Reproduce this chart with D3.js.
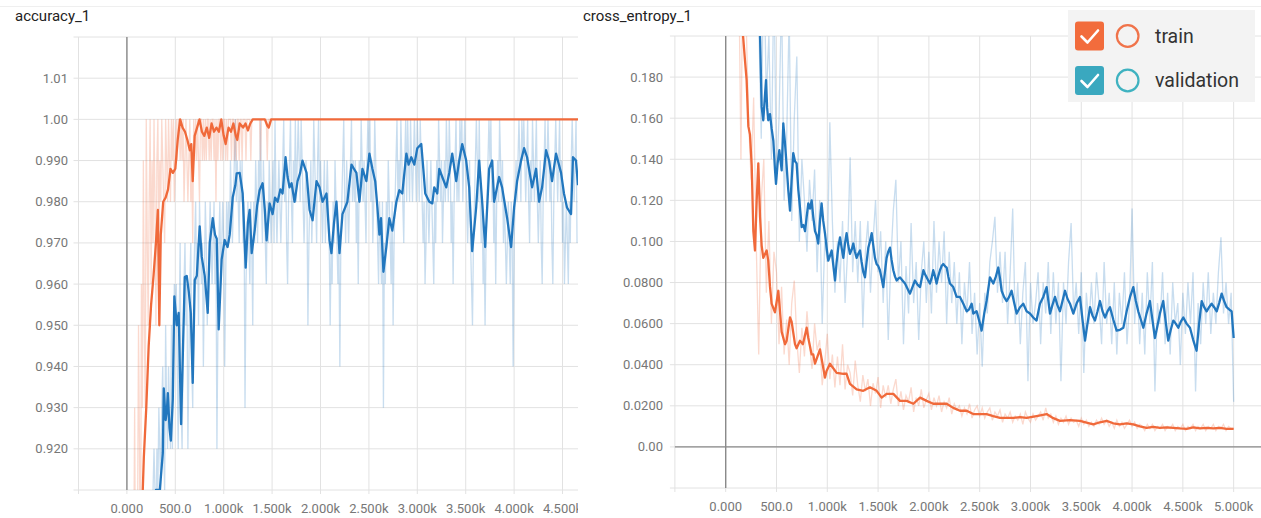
<!DOCTYPE html>
<html>
<head>
  <meta charset="utf-8">
  <title>accuracy_1 / cross_entropy_1</title>
  <script src="https://cdn.jsdelivr.net/npm/d3@7/dist/d3.min.js"></script>
  <style>
    body { margin: 0; background: #fff; }
    text { font-family: Roboto, "Liberation Sans", sans-serif; }
  </style>
</head>
<body>
<svg id="chart" width="1261" height="518"></svg>

<script>
// ---- shared x axis (training steps) ----
var xTicks      = [-500, 0, 500, 1000, 1500, 2000, 2500, 3000, 3500, 4000, 4500, 5000];
var xTickLabels = ['', '0.000', '500.0', '1.000k', '1.500k', '2.000k', '2.500k', '3.000k', '3.500k', '4.000k', '4.500k', '5.000k'];

// ---- accuracy_1 ----
var accGrid       = [0.91, 0.92, 0.93, 0.94, 0.95, 0.96, 0.97, 0.98, 0.99, 1.00, 1.01, 1.02];
var accTickLabels = ['', '0.920', '0.930', '0.940', '0.950', '0.960', '0.970', '0.980', '0.990', '1.00', '1.01', ''];

// smoothed curves, [step, value]
var trainAccSmooth = [
  [150,0.900],[175,0.918],[200,0.930],[225,0.945],[250,0.955],[275,0.962],[300,0.970],[320,0.978],[335,0.950],[350,0.972],
  [375,0.980],[400,0.981],[425,0.983],[450,0.988],[475,0.987],[500,0.988],[525,0.995],[550,1.000],[575,0.998],[600,0.997],
  [625,0.995],[650,0.9925],[665,0.994],[680,0.985],[700,0.996],[725,0.998],[750,1.000],[775,0.997],[800,0.996],[825,0.998],
  [850,0.9955],[875,0.999],[900,0.997],[925,0.998],[950,0.997],[975,1.000],[1000,0.996],[1020,0.994],[1050,0.998],[1075,0.997],
  [1100,0.999],[1125,0.996],[1140,0.995],[1165,0.999],[1200,0.998],[1225,0.999],[1250,0.9973],[1275,0.999],[1300,1.000],[1425,1.000],
  [1450,0.9985],[1465,0.998],[1490,1.000],[4660,1.000]
];
var valAccSmooth = [
  [280,0.905],[300,0.910],[340,0.910],[371,0.919],[381,0.9347],[400,0.927],[412,0.929],[423,0.9335],[440,0.925],[454,0.922],
  [474,0.932],[490,0.957],[515,0.950],[535,0.953],[560,0.926],[580,0.945],[598,0.9617],[618,0.962],[640,0.958],[660,0.953],
  [680,0.936],[701,0.961],[722,0.962],[752,0.974],[773,0.9666],[804,0.962],[835,0.953],[856,0.970],[887,0.976],[910,0.972],
  [928,0.971],[948,0.949],[979,0.966],[1010,0.9707],[1040,0.969],[1062,0.972],[1093,0.981],[1120,0.984],[1134,0.9869],[1165,0.987],
  [1196,0.982],[1227,0.964],[1250,0.975],[1268,0.978],[1289,0.9675],[1320,0.973],[1345,0.979],[1371,0.9828],[1402,0.9845],[1425,0.978],
  [1443,0.9706],[1474,0.9796],[1505,0.977],[1530,0.981],[1557,0.980],[1585,0.983],[1608,0.982],[1639,0.9908],[1660,0.986],[1680,0.9835],
  [1701,0.9845],[1732,0.980],[1763,0.985],[1790,0.987],[1814,0.990],[1856,0.987],[1887,0.978],[1918,0.9755],[1959,0.985],[1990,0.9835],
  [2021,0.980],[2062,0.982],[2093,0.9706],[2113,0.9675],[2140,0.975],[2165,0.980],[2196,0.9675],[2227,0.977],[2278,0.980],[2320,0.989],
  [2345,0.988],[2371,0.987],[2402,0.980],[2433,0.988],[2474,0.985],[2505,0.9917],[2536,0.988],[2565,0.985],[2588,0.9786],[2608,0.972],
  [2625,0.976],[2650,0.963],[2680,0.969],[2711,0.976],[2742,0.973],[2784,0.980],[2814,0.9828],[2845,0.982],[2887,0.9917],[2910,0.989],
  [2938,0.9908],[2969,0.989],[3000,0.993],[3041,0.994],[3062,0.988],[3082,0.982],[3124,0.980],[3155,0.9796],[3175,0.9835],[3206,0.982],
  [3227,0.988],[3258,0.986],[3299,0.9835],[3330,0.987],[3361,0.9917],[3402,0.985],[3433,0.990],[3464,0.994],[3505,0.990],[3536,0.9835],
  [3567,0.968],[3608,0.9786],[3639,0.990],[3670,0.980],[3701,0.969],[3742,0.988],[3773,0.990],[3794,0.980],[3845,0.986],[3876,0.9835],
  [3928,0.976],[3969,0.969],[4000,0.9786],[4031,0.985],[4072,0.990],[4103,0.993],[4134,0.9908],[4186,0.9835],[4227,0.988],[4258,0.980],
  [4289,0.9835],[4330,0.9925],[4361,0.990],[4392,0.985],[4433,0.9917],[4485,0.987],[4515,0.982],[4546,0.9786],[4588,0.977],[4608,0.9908],
  [4639,0.990],[4660,0.984]
];

// raw accuracy in hundredths, one value every 10 steps
var trainAccRawStart = 70;
var trainAccRaw = [
  89, 93, 88, 86, 90, 95, 92, 88, 96, 93, 99, 95, 93, 100, 97, 95, 98, 100, 96, 99, 97, 100, 98, 95, 99,
  100, 97, 99, 98, 100, 99, 98, 97, 100, 99, 98, 100, 99, 98, 100, 99, 100, 98, 99, 100, 99, 100, 100, 99, 100,
  99, 100, 98, 99, 100, 99, 98, 99, 100, 98, 99, 97, 100, 99, 100, 99, 100, 99, 98, 100, 100, 99, 100, 99, 100,
  99, 100, 100, 99, 100, 99, 100, 100, 99, 100, 98, 100, 99, 100, 100, 99, 100, 99, 100, 100, 99, 100, 99, 100, 100,
  100, 99, 100, 100, 99, 100, 99, 100, 100, 99, 100, 100, 99, 100, 100, 100, 99, 100, 100, 100, 100, 99, 100, 100, 100,
  100, 100, 100, 100, 100, 100, 99, 100, 100, 100, 100, 100, 100, 99, 100, 100, 100, 100, 100
];
var valAccRawStart = 250;
var valAccRaw = [
  91, 90, 91, 92, 91, 90, 92, 91, 93, 92, 91, 93, 94, 92, 91, 95, 93, 92, 94, 93, 92, 95, 92, 94, 96,
  95, 96, 94, 92, 95, 97, 93, 92, 94, 96, 97, 95, 96, 92, 94, 96, 97, 94, 93, 96, 97, 98, 96, 97, 95,
  98, 97, 96, 97, 94, 96, 98, 97, 95, 96, 97, 98, 97, 96, 97, 98, 96, 97, 92, 95, 97, 98, 96, 97, 98,
  97, 94, 96, 98, 97, 98, 97, 99, 98, 97, 98, 99, 100, 98, 99, 98, 97, 99, 98, 99, 97, 98, 93, 96, 97,
  98, 97, 96, 98, 97, 95, 98, 97, 99, 98, 97, 99, 98, 100, 98, 97, 99, 98, 97, 96, 98, 97, 99, 98, 97,
  98, 99, 97, 100, 98, 97, 98, 99, 98, 97, 98, 99, 100, 98, 99, 97, 96, 98, 99, 100, 98, 97, 99, 98, 100,
  98, 99, 100, 99, 98, 100, 99, 98, 97, 98, 99, 98, 95, 97, 98, 99, 97, 98, 100, 99, 98, 97, 99, 100, 98,
  99, 98, 97, 98, 99, 97, 98, 99, 98, 97, 95, 97, 96, 98, 97, 99, 98, 97, 96, 97, 94, 97, 98, 99, 100,
  98, 97, 99, 98, 97, 98, 99, 100, 98, 99, 98, 99, 97, 98, 96, 99, 98, 100, 99, 98, 99, 98, 97, 99, 100,
  99, 100, 98, 99, 97, 98, 100, 99, 98, 97, 96, 98, 97, 96, 98, 93, 97, 96, 98, 97, 99, 98, 97, 96, 98,
  95, 97, 98, 99, 100, 98, 99, 98, 100, 99, 98, 97, 99, 100, 98, 100, 99, 98, 100, 99, 98, 99, 100, 99, 98,
  100, 99, 98, 100, 99, 98, 97, 98, 96, 97, 99, 98, 97, 98, 99, 98, 97, 96, 98, 97, 99, 98, 100, 99, 98,
  99, 97, 98, 99, 98, 100, 99, 98, 100, 99, 97, 98, 96, 98, 99, 100, 98, 99, 98, 100, 99, 100, 98, 99, 100,
  99, 98, 97, 98, 99, 97, 96, 95, 97, 98, 99, 100, 99, 98, 100, 98, 97, 98, 96, 97, 95, 97, 98, 99, 100,
  99, 100, 98, 99, 97, 98, 96, 98, 99, 98, 100, 99, 98, 99, 97, 98, 97, 96, 97, 98, 97, 96, 98, 97, 94,
  97, 98, 99, 98, 99, 100, 99, 98, 100, 99, 100, 99, 98, 99, 100, 98, 97, 99, 98, 100, 99, 98, 99, 100, 98,
  97, 98, 99, 97, 96, 98, 99, 100, 98, 99, 100, 99, 98, 99, 97, 96, 98, 99, 100, 99, 98, 99, 100, 98, 99,
  97, 98, 96, 97, 98, 97, 96, 98, 97, 99, 100, 99, 98, 99, 100, 97
];

// ---- cross_entropy_1 ----
var ceGrid       = [-0.02, 0, 0.02, 0.04, 0.06, 0.08, 0.10, 0.12, 0.14, 0.16, 0.18, 0.20];
var ceTickLabels = ['', '0.00', '0.0200', '0.0400', '0.0600', '0.0800', '0.100', '0.120', '0.140', '0.160', '0.180', ''];

var trainCeSmooth = [
  [140,0.26],[171,0.200],[190,0.188],[206,0.1785],[223,0.156],[239,0.152],[256,0.137],[272,0.105],[288,0.0956],[305,0.120],
  [321,0.138],[338,0.112],[354,0.098],[370,0.092],[403,0.0956],[419,0.0907],[436,0.078],[452,0.0697],[485,0.0655],[518,0.076],
  [551,0.056],[584,0.050],[600,0.0517],[633,0.063],[649,0.061],[682,0.050],[698,0.048],[731,0.0517],[760,0.050],[797,0.058],
  [813,0.053],[846,0.045],[862,0.045],[879,0.0405],[928,0.0475],[977,0.0337],[993,0.037],[1026,0.0405],[1092,0.036],[1158,0.0356],
  [1190,0.0356],[1223,0.0307],[1289,0.028],[1354,0.0273],[1420,0.029],[1486,0.0273],[1535,0.024],[1584,0.0258],[1650,0.0258],[1716,0.0224],
  [1781,0.0224],[1847,0.021],[1913,0.024],[1978,0.0224],[2043,0.021],[2109,0.021],[2175,0.021],[2240,0.019],[2306,0.0176],[2372,0.0176],
  [2437,0.016],[2503,0.016],[2568,0.016],[2634,0.015],[2700,0.0141],[2765,0.0141],[2831,0.0141],[2897,0.0145],[2962,0.0141],[3060,0.0150],
  [3159,0.016],[3225,0.014],[3290,0.0127],[3389,0.013],[3487,0.0127],[3552,0.0118],[3618,0.011],[3684,0.012],[3750,0.0127],[3815,0.0115],
  [3880,0.011],[3946,0.0115],[4012,0.011],[4077,0.010],[4143,0.0093],[4208,0.0098],[4274,0.0093],[4340,0.0095],[4405,0.0093],[4471,0.0090],
  [4537,0.0088],[4602,0.0095],[4668,0.0090],[4734,0.0093],[4800,0.0090],[4866,0.0093],[4931,0.0088],[5000,0.0088]
];
var valCeSmooth = [
  [320,0.25],[338,0.200],[354,0.1655],[370,0.159],[385,0.170],[397,0.1785],[408,0.165],[419,0.159],[436,0.162],[452,0.155],
  [469,0.149],[485,0.135],[495,0.128],[511,0.138],[528,0.1444],[551,0.1346],[567,0.1575],[580,0.150],[594,0.141],[616,0.125],
  [633,0.115],[649,0.130],[665,0.143],[682,0.139],[698,0.138],[715,0.125],[731,0.1166],[748,0.107],[765,0.108],[781,0.105],
  [797,0.112],[813,0.1185],[830,0.116],[846,0.120],[862,0.112],[879,0.105],[895,0.103],[911,0.099],[928,0.110],[944,0.1185],
  [960,0.110],[977,0.104],[993,0.097],[1010,0.0907],[1026,0.093],[1043,0.0956],[1060,0.088],[1076,0.081],[1092,0.090],[1108,0.097],
  [1125,0.102],[1141,0.097],[1158,0.092],[1174,0.099],[1190,0.104],[1207,0.098],[1223,0.094],[1240,0.096],[1256,0.099],[1272,0.095],
  [1289,0.092],[1305,0.094],[1322,0.0956],[1338,0.090],[1355,0.085],[1371,0.0825],[1387,0.090],[1404,0.097],[1420,0.100],[1437,0.104],
  [1453,0.098],[1469,0.092],[1485,0.089],[1502,0.088],[1518,0.086],[1535,0.082],[1551,0.0778],[1567,0.085],[1584,0.092],[1600,0.095],
  [1617,0.097],[1633,0.091],[1650,0.086],[1666,0.083],[1683,0.081],[1700,0.082],[1716,0.0825],[1740,0.081],[1765,0.0795],[1790,0.077],
  [1814,0.0746],[1840,0.078],[1863,0.081],[1888,0.079],[1913,0.0778],[1930,0.082],[1946,0.086],[1962,0.084],[1978,0.0825],[1994,0.081],
  [2010,0.0795],[2026,0.082],[2043,0.086],[2060,0.083],[2076,0.0795],[2092,0.083],[2109,0.086],[2125,0.088],[2142,0.089],[2158,0.088],
  [2175,0.0873],[2191,0.083],[2207,0.0795],[2240,0.0778],[2273,0.073],[2306,0.073],[2339,0.0697],[2372,0.066],[2396,0.067],[2421,0.0697],
  [2437,0.0649],[2470,0.066],[2503,0.060],[2519,0.0566],[2545,0.065],[2568,0.071],[2601,0.0825],[2634,0.0795],[2660,0.083],[2683,0.0873],
  [2700,0.082],[2716,0.076],[2740,0.073],[2765,0.071],[2790,0.073],[2814,0.076],[2840,0.070],[2864,0.0649],[2897,0.068],[2929,0.0697],
  [2962,0.066],[2995,0.0649],[3027,0.063],[3060,0.0615],[3093,0.0697],[3126,0.073],[3159,0.0778],[3192,0.0649],[3216,0.069],[3241,0.073],
  [3265,0.069],[3290,0.066],[3315,0.071],[3340,0.076],[3365,0.072],[3389,0.0697],[3422,0.0649],[3455,0.070],[3487,0.073],[3512,0.062],
  [3537,0.0517],[3561,0.060],[3586,0.068],[3610,0.064],[3635,0.0615],[3660,0.066],[3684,0.071],[3709,0.066],[3734,0.063],[3758,0.066],
  [3783,0.068],[3815,0.062],[3848,0.0566],[3881,0.057],[3914,0.058],[3947,0.066],[3980,0.073],[4012,0.0778],[4037,0.071],[4061,0.066],
  [4086,0.062],[4111,0.058],[4143,0.065],[4176,0.071],[4200,0.062],[4225,0.053],[4250,0.059],[4274,0.0649],[4290,0.068],[4307,0.071],
  [4331,0.061],[4356,0.0517],[4381,0.057],[4406,0.0615],[4430,0.060],[4455,0.058],[4480,0.061],[4504,0.063],[4537,0.060],[4570,0.058],
  [4602,0.052],[4635,0.0468],[4660,0.060],[4685,0.071],[4710,0.068],[4734,0.066],[4758,0.068],[4783,0.0697],[4808,0.068],[4833,0.066],
  [4857,0.070],[4882,0.0746],[4906,0.071],[4931,0.068],[4955,0.067],[4980,0.066],[5000,0.053]
];

// raw cross entropy, one value every 25 steps
var trainCeRawStart = 100;
var trainCeRaw = [
  0.33, 0.25, 0.14, 0.27, 0.21, 0.16, 0.13, 0.17, 0.10, 0.045, 0.12, 0.14, 0.075, 0.11, 0.06, 0.095, 0.085, 0.05, 0.078, 0.045,
  0.062, 0.04, 0.07, 0.081, 0.052, 0.036, 0.058, 0.044, 0.066, 0.05, 0.038, 0.06, 0.047, 0.052, 0.03, 0.041, 0.055, 0.033, 0.045, 0.029,
  0.044, 0.03, 0.05, 0.028, 0.04, 0.036, 0.025, 0.042, 0.03, 0.022, 0.035, 0.027, 0.033, 0.02, 0.031, 0.026, 0.034, 0.019, 0.03, 0.024,
  0.03, 0.021, 0.028, 0.033, 0.02, 0.027, 0.018, 0.025, 0.022, 0.029, 0.017, 0.024, 0.02, 0.028, 0.019, 0.023, 0.026, 0.018, 0.024, 0.02,
  0.025, 0.017, 0.022, 0.019, 0.024, 0.016, 0.021, 0.018, 0.02, 0.015, 0.019, 0.016, 0.021, 0.014, 0.018, 0.02, 0.015, 0.019, 0.014, 0.017,
  0.019, 0.013, 0.017, 0.015, 0.018, 0.012, 0.016, 0.014, 0.017, 0.012, 0.015, 0.013, 0.016, 0.011, 0.017, 0.014, 0.012, 0.016, 0.013, 0.015,
  0.017, 0.013, 0.019, 0.014, 0.016, 0.012, 0.015, 0.011, 0.014, 0.012, 0.015, 0.011, 0.014, 0.012, 0.013, 0.01, 0.014, 0.011, 0.013, 0.01,
  0.012, 0.01, 0.013, 0.011, 0.014, 0.011, 0.013, 0.01, 0.012, 0.009, 0.013, 0.01, 0.012, 0.009, 0.011, 0.013, 0.01, 0.012, 0.009, 0.011,
  0.01, 0.008, 0.011, 0.009, 0.011, 0.008, 0.01, 0.009, 0.011, 0.008, 0.01, 0.009, 0.011, 0.008, 0.01, 0.009, 0.011, 0.008, 0.01, 0.009,
  0.011, 0.008, 0.01, 0.009, 0.011, 0.008, 0.01, 0.009, 0.011, 0.008, 0.01, 0.009, 0.011, 0.008, 0.01, 0.009, 0.009
];
var valCeRawStart = 300;
var valCeRaw = [
  0.27, 0.21, 0.15, 0.24, 0.17, 0.20, 0.14, 0.23, 0.13, 0.16, 0.22, 0.12, 0.15, 0.21, 0.11, 0.16, 0.19, 0.10, 0.14, 0.12,
  0.095, 0.13, 0.11, 0.135, 0.085, 0.12, 0.06, 0.1, 0.09, 0.158, 0.11, 0.075, 0.1, 0.08, 0.11, 0.07, 0.095, 0.141, 0.085, 0.11,
  0.08, 0.11, 0.058, 0.095, 0.11, 0.075, 0.1, 0.12, 0.085, 0.105, 0.07, 0.1, 0.052, 0.09, 0.115, 0.13, 0.08, 0.1, 0.05, 0.088,
  0.065, 0.109, 0.07, 0.09, 0.052, 0.085, 0.1, 0.07, 0.095, 0.065, 0.11, 0.075, 0.1, 0.08, 0.105, 0.06, 0.095, 0.07, 0.09, 0.06,
  0.085, 0.05, 0.08, 0.065, 0.09, 0.055, 0.075, 0.045, 0.07, 0.039, 0.075, 0.065, 0.09, 0.1, 0.112, 0.075, 0.095, 0.07, 0.095, 0.06,
  0.085, 0.116, 0.06, 0.08, 0.05, 0.075, 0.09, 0.032, 0.08, 0.06, 0.07, 0.085, 0.05, 0.08, 0.065, 0.09, 0.055, 0.085, 0.06, 0.08,
  0.032, 0.08, 0.06, 0.09, 0.109, 0.065, 0.08, 0.055, 0.085, 0.036, 0.075, 0.06, 0.08, 0.06, 0.085, 0.07, 0.05, 0.09, 0.06, 0.075,
  0.05, 0.08, 0.045, 0.075, 0.06, 0.085, 0.05, 0.07, 0.116, 0.06, 0.08, 0.05, 0.075, 0.045, 0.085, 0.06, 0.09, 0.027, 0.07, 0.06,
  0.085, 0.05, 0.075, 0.045, 0.08, 0.06, 0.07, 0.04, 0.075, 0.055, 0.08, 0.06, 0.085, 0.027, 0.07, 0.05, 0.08, 0.06, 0.085, 0.055,
  0.075, 0.06, 0.085, 0.102, 0.065, 0.08, 0.06, 0.075, 0.022
];

var ORANGE = '#f0693a',
    BLUE   = '#2277be';

// raw arrays are evenly spaced; pair each value with its step
function withSteps(start, every, values, scale) {
  return values.map(function(v, i) { return [start + i * every, v * scale]; });
}

var svg = d3.select('#chart');

svg.append('line')
  .attr('x1', 0).attr('x2', 1261).attr('y1', 6.5).attr('y2', 6.5)
  .attr('stroke', '#efefef');

function drawPanel(o) {
  var g = svg.append('g');

  var x = d3.scaleLinear().domain(o.xDomain).range([o.left, o.right]),
      y = d3.scaleLinear().domain([o.grid[0], o.grid[o.grid.length - 1]]).range([o.bottom, o.top]);

  var clipId = o.id + '-clip';
  svg.append('clipPath').attr('id', clipId)
    .append('rect')
      .attr('x', o.left).attr('y', o.top)
      .attr('width', o.right - o.left).attr('height', o.bottom - o.top);

  var labelClip = o.id + '-labels';
  svg.append('clipPath').attr('id', labelClip)
    .append('rect').attr('x', 0).attr('y', 0).attr('width', o.right).attr('height', 518);

  g.append('text')
    .attr('x', o.titleX).attr('y', 21)
    .attr('font-size', 15).attr('fill', '#222')
    .text(o.title);

  var xs = xTicks.filter(function(t) { return t >= o.xDomain[0] && t <= o.xDomain[1]; });

  // grid
  g.append('g').selectAll('line').data(o.grid).enter().append('line')
    .attr('x1', o.left - 5).attr('x2', o.right)
    .attr('y1', function(d) { return y(d); }).attr('y2', function(d) { return y(d); })
    .attr('stroke', '#e2e2e2').attr('stroke-width', 1);

  g.append('g').selectAll('line').data(xs).enter().append('line')
    .attr('x1', function(d) { return x(d); }).attr('x2', function(d) { return x(d); })
    .attr('y1', o.top).attr('y2', o.bottom + 4)
    .attr('stroke', '#e2e2e2').attr('stroke-width', 1);

  // zero axes
  g.append('line')
    .attr('x1', x(0)).attr('x2', x(0)).attr('y1', o.top).attr('y2', o.bottom)
    .attr('stroke', '#8a8a8a').attr('stroke-width', 1.4);
  if (o.grid[0] < 0) {
    g.append('line')
      .attr('x1', o.left).attr('x2', o.right).attr('y1', y(0)).attr('y2', y(0))
      .attr('stroke', '#8a8a8a').attr('stroke-width', 1.4);
  }

  // y labels
  g.append('g').selectAll('text').data(o.grid).enter().append('text')
    .attr('x', o.labelX).attr('y', function(d) { return y(d); })
    .attr('dy', '0.35em').attr('text-anchor', 'end')
    .attr('font-size', 13).attr('fill', '#777')
    .text(function(d, i) { return o.gridLabels[i]; });

  // x labels
  g.append('g').attr('clip-path', 'url(#' + labelClip + ')')
    .selectAll('text').data(xs).enter().append('text')
      .attr('x', function(d) { return x(d); }).attr('y', o.bottom + 23)
      .attr('text-anchor', 'middle')
      .attr('font-size', 13).attr('fill', '#777')
      .text(function(d) { return xTickLabels[xTicks.indexOf(d)]; });

  var line = d3.line()
    .x(function(d) { return x(d[0]); })
    .y(function(d) { return y(d[1]); });

  var plot = g.append('g').attr('clip-path', 'url(#' + clipId + ')');

  o.raw.forEach(function(s) {
    plot.append('path').datum(s.data)
      .attr('d', line).attr('fill', 'none')
      .attr('stroke', s.color).attr('stroke-opacity', 0.25).attr('stroke-width', 1.3);
  });
  o.smooth.forEach(function(s) {
    plot.append('path').datum(s.data)
      .attr('d', line).attr('fill', 'none')
      .attr('stroke', s.color).attr('stroke-width', 2.3)
      .attr('stroke-linejoin', 'round');
  });
}

drawPanel({
  id: 'acc', title: 'accuracy_1', titleX: 15,
  left: 78.5, right: 578, top: 37, bottom: 490, labelX: 68,
  xDomain: [-500, 4660],
  grid: accGrid, gridLabels: accTickLabels,
  raw: [
    { color: BLUE,   data: withSteps(valAccRawStart, 10, valAccRaw, 0.01) },
    { color: ORANGE, data: withSteps(trainAccRawStart, 10, trainAccRaw, 0.01) }
  ],
  smooth: [
    { color: BLUE,   data: valAccSmooth },
    { color: ORANGE, data: trainAccSmooth }
  ]
});

drawPanel({
  id: 'ce', title: 'cross_entropy_1', titleX: 583,
  left: 674.9, right: 1261.6, top: 36, bottom: 488, labelX: 663,
  xDomain: [-500, 5275],
  grid: ceGrid, gridLabels: ceTickLabels,
  raw: [
    { color: BLUE,   data: withSteps(valCeRawStart, 25, valCeRaw, 1) },
    { color: ORANGE, data: withSteps(trainCeRawStart, 25, trainCeRaw, 1) }
  ],
  smooth: [
    { color: BLUE,   data: valCeSmooth },
    { color: ORANGE, data: trainCeSmooth }
  ]
});

// ---- legend ----
var legendItems = [
  { name: 'train',      box: '#f26c3c', ring: '#f0734a' },
  { name: 'validation', box: '#3aa8bf', ring: '#3fb2c0' }
];

var legend = svg.append('g');
legend.append('rect')
  .attr('x', 1068).attr('y', 10).attr('width', 187).attr('height', 92)
  .attr('fill', '#f3f3f3');

var item = legend.selectAll('g.item').data(legendItems).enter().append('g')
  .attr('class', 'item')
  .attr('transform', function(d, i) { return 'translate(0,' + (i * 44.5) + ')'; });

item.append('rect')
  .attr('x', 1075).attr('y', 21.5).attr('width', 29).attr('height', 29).attr('rx', 3)
  .attr('fill', function(d) { return d.box; });
item.append('path')
  .attr('d', 'M1081.5,36.5 L1087.5,42.5 L1098,30.5')
  .attr('fill', 'none').attr('stroke', '#fff').attr('stroke-width', 2.6)
  .attr('stroke-linecap', 'round').attr('stroke-linejoin', 'round');
item.append('circle')
  .attr('cx', 1127.7).attr('cy', 36).attr('r', 10.8)
  .attr('fill', 'none').attr('stroke', function(d) { return d.ring; }).attr('stroke-width', 2.2);
item.append('text')
  .attr('x', 1155).attr('y', 42.5)
  .attr('font-size', 19.5).attr('fill', '#333')
  .text(function(d) { return d.name; });
</script>
</body>
</html>
